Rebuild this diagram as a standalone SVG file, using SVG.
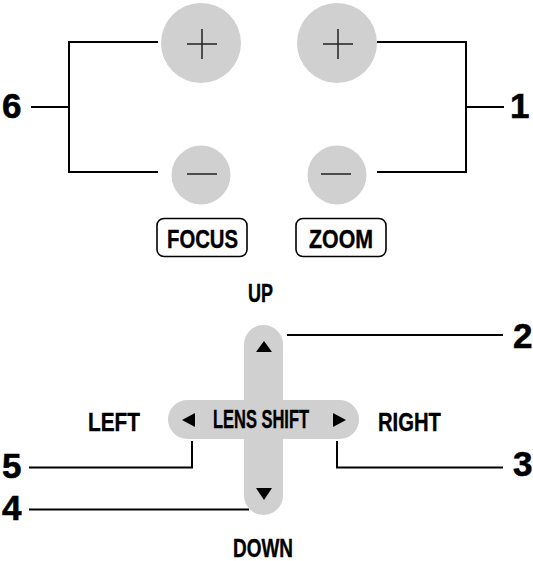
<svg xmlns="http://www.w3.org/2000/svg" width="533" height="561" viewBox="0 0 533 561">
<style>
.btn{fill:#d0d0d0}
.sign{stroke:#222;stroke-width:1.5;fill:none}
.lead{stroke:#000;stroke-width:2;fill:none}
.box{fill:#fff;stroke:#000;stroke-width:1.6}
.num{font-family:"Liberation Sans",Arial,sans-serif;font-weight:bold;font-size:35px;fill:#000;stroke:#000;stroke-width:0.6}
.lbl{font-family:"Liberation Sans",Arial,sans-serif;font-weight:bold;font-size:25px;fill:#000;stroke:#000;stroke-width:0.4;text-anchor:middle}
.tri{fill:#000}
</style>
<rect width="533" height="561" fill="#fff"/>
<g id="connectors">
<polyline class="lead" points="158,42 69,42 69,172 158,172"/>
<line class="lead" x1="31" y1="107" x2="69" y2="107"/>
<polyline class="lead" points="377,42 466,42 466,172 377,172"/>
<line class="lead" x1="466" y1="107" x2="504" y2="107"/>
<line class="lead" x1="287" y1="335" x2="503" y2="335"/>
<polyline class="lead" points="337,441 337,467.5 503,467.5"/>
<polyline class="lead" points="192,441 192,467.5 29,467.5"/>
<line class="lead" x1="249" y1="509.5" x2="29" y2="509.5"/>
</g>
<g id="focus-plus">
<circle class="btn" cx="201" cy="43" r="40"/>
<path class="sign" d="M187,44H217M202,29V59"/>
</g>
<g id="focus-minus">
<circle class="btn" cx="201" cy="175" r="29.5"/>
<path class="sign" d="M187,174H217"/>
</g>
<g id="zoom-plus">
<circle class="btn" cx="337" cy="43" r="40"/>
<path class="sign" d="M323,44H353M338,29V59"/>
</g>
<g id="zoom-minus">
<circle class="btn" cx="337" cy="175" r="29.5"/>
<path class="sign" d="M321,174H351"/>
</g>
<g id="focus-label">
<rect class="box" x="157" y="218.5" width="90" height="38" rx="7"/>
<text class="lbl" x="202.5" y="247.5" font-size="24" textLength="71" lengthAdjust="spacingAndGlyphs">FOCUS</text>
</g>
<g id="zoom-label">
<rect class="box" x="296" y="218.5" width="90" height="38" rx="7"/>
<text class="lbl" x="341" y="247.5" font-size="24" textLength="64" lengthAdjust="spacingAndGlyphs">ZOOM</text>
</g>
<g id="lens-shift">
<rect class="btn" x="244" y="325" width="39" height="190" rx="19.5"/>
<rect class="btn" x="168" y="400" width="191" height="39" rx="19.5"/>
<polygon class="tri" points="264,341 256,352 272,352"/>
<polygon class="tri" points="256,488 272,488 264,500"/>
<polygon class="tri" points="182,420 195,413 195,427"/>
<polygon class="tri" points="346,420 333,413 333,427"/>
<text class="lbl" x="261" y="428" font-size="21.5" textLength="96" lengthAdjust="spacingAndGlyphs">LENS SHIFT</text>
</g>
<g id="direction-labels">
<text class="lbl" x="260.5" y="302" textLength="25" lengthAdjust="spacingAndGlyphs">UP</text>
<text class="lbl" x="114" y="430.5" textLength="52" lengthAdjust="spacingAndGlyphs">LEFT</text>
<text class="lbl" x="409.5" y="430.5" textLength="63" lengthAdjust="spacingAndGlyphs">RIGHT</text>
<text class="lbl" x="263" y="557" textLength="60" lengthAdjust="spacingAndGlyphs">DOWN</text>
</g>
<g id="numbers">
<text class="num" x="2" y="118">6</text>
<text class="num" x="510" y="118">1</text>
<text class="num" x="513" y="348">2</text>
<text class="num" x="513" y="476">3</text>
<text class="num" x="2" y="478">5</text>
<text class="num" x="2" y="520">4</text>
</g>
</svg>
